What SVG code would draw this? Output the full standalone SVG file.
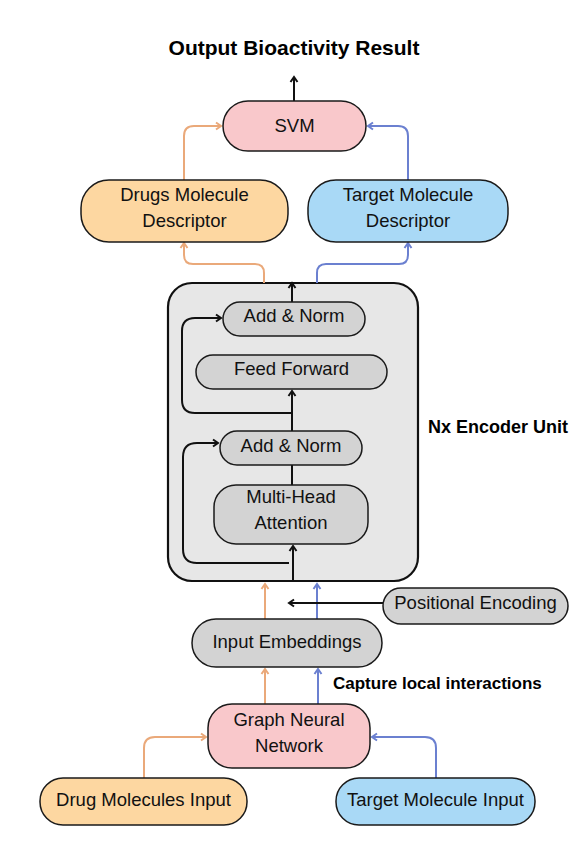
<svg xmlns="http://www.w3.org/2000/svg" width="585" height="864" viewBox="0 0 585 864">
<style>
.bg{fill:#ffffff}
.node{stroke:#1a1a1a;stroke-width:1.5}
.pink{fill:#f9c8cb}
.orange{fill:#fdd7a1}
.blue{fill:#a9d9f6}
.grey{fill:#d3d3d3}
.enc{fill:#e7e7e7;stroke:#111;stroke-width:2.2}
.t{font-family:"Liberation Sans",Arial,sans-serif;font-size:18.5px;fill:#111;text-anchor:middle}
.b{font-family:"Liberation Sans",Arial,sans-serif;font-weight:bold;fill:#000}
.c{fill:none;stroke-width:2}
.co{stroke:#eaa97a}
.cb{stroke:#6b80d0}
.ck{stroke:#111}
</style>
<defs>
<marker id="ao" markerUnits="userSpaceOnUse" markerWidth="10" markerHeight="10" refX="7" refY="5" orient="auto"><path d="M2,1.5 L7,5 L2,8.5" fill="none" stroke="#eaa97a" stroke-width="2"/></marker>
<marker id="ab" markerUnits="userSpaceOnUse" markerWidth="10" markerHeight="10" refX="7" refY="5" orient="auto"><path d="M2,1.5 L7,5 L2,8.5" fill="none" stroke="#6b80d0" stroke-width="2"/></marker>
<marker id="ak" markerUnits="userSpaceOnUse" markerWidth="10" markerHeight="10" refX="7" refY="5" orient="auto"><path d="M2,1.5 L7,5 L2,8.5" fill="none" stroke="#111" stroke-width="2"/></marker>
</defs>
<rect class="bg" x="0" y="0" width="585" height="864"/>
<text class="b" x="294" y="55" font-size="21" text-anchor="middle">Output Bioactivity Result</text>

<g id="encoder"><rect class="enc" x="168" y="283" width="250" height="298" rx="24"/></g>

<g id="connectors">
<path class="c ck" d="M294,101 V77" marker-end="url(#ak)"/>
<path class="c co" d="M184,180 V136 Q184,126 194,126 H221" marker-end="url(#ao)"/>
<path class="c cb" d="M408,180 V136 Q408,126 398,126 H368" marker-end="url(#ab)"/>
<path class="c co" d="M264,283 V273 Q264,264 255,264 H193 Q184,264 184,255 V243" marker-end="url(#ao)"/>
<path class="c cb" d="M317,283 V273 Q317,264 326,264 H399 Q408,264 408,255 V243" marker-end="url(#ab)"/>
<path class="c ck" d="M292,302 V283" marker-end="url(#ak)"/>
<path class="c ck" d="M292,431 V391" marker-end="url(#ak)"/>
<path class="c ck" d="M292,413 H195 Q182,413 182,400 V331 Q182,318 195,318 H221" marker-end="url(#ak)"/>
<path class="c ck" d="M292,465 V485"/>
<path class="c ck" d="M293,581 V546" marker-end="url(#ak)"/>
<path class="c ck" d="M289,563 H197 Q183,563 183,549 V457 Q183,443 197,443 H218" marker-end="url(#ak)"/>
<path class="c co" d="M265,619 V584" marker-end="url(#ao)"/>
<path class="c cb" d="M317,619 V584" marker-end="url(#ab)"/>
<path class="c ck" d="M383,603 H289" marker-end="url(#ak)"/>
<path class="c co" d="M265,704 V669" marker-end="url(#ao)"/>
<path class="c cb" d="M318,704 V669" marker-end="url(#ab)"/>
<path class="c co" d="M144,778 V748 Q144,737 155,737 H206" marker-end="url(#ao)"/>
<path class="c cb" d="M436,778 V748 Q436,737 425,737 H372" marker-end="url(#ab)"/>
</g>

<g id="svm"><rect class="node pink" x="223" y="101" width="143" height="50" rx="25"/><text class="t" x="294.5" y="132">SVM</text></g>
<g id="drugs-descriptor"><rect class="node orange" x="81" y="180" width="207" height="62" rx="28"/><text class="t" x="184.5" y="201">Drugs Molecule</text><text class="t" x="184.5" y="227">Descriptor</text></g>
<g id="target-descriptor"><rect class="node blue" x="308" y="180" width="200" height="62" rx="28"/><text class="t" x="408" y="201">Target Molecule</text><text class="t" x="408" y="227">Descriptor</text></g>
<g id="add-norm-1"><rect class="node grey" x="223" y="302" width="142" height="34" rx="17"/><text class="t" x="294" y="322">Add &amp; Norm</text></g>
<g id="feed-forward"><rect class="node grey" x="196" y="355" width="191" height="34" rx="17"/><text class="t" x="291.5" y="375">Feed Forward</text></g>
<g id="add-norm-2"><rect class="node grey" x="220" y="431" width="142" height="34" rx="17"/><text class="t" x="291" y="452">Add &amp; Norm</text></g>
<g id="multi-head"><rect class="node grey" x="214" y="485" width="154" height="59" rx="22"/><text class="t" x="291" y="503">Multi-Head</text><text class="t" x="291" y="529">Attention</text></g>
<g id="nx-label"><text class="b" x="428" y="433" font-size="18">Nx Encoder Unit</text></g>
<g id="positional-encoding"><rect class="node grey" x="383" y="588" width="185" height="36" rx="18"/><text class="t" x="475.5" y="609">Positional Encoding</text></g>
<g id="input-embeddings"><rect class="node grey" x="192" y="619" width="190" height="48" rx="24"/><text class="t" x="287" y="648">Input Embeddings</text></g>
<g id="capture-label"><text class="b" x="333" y="689" font-size="17">Capture local interactions</text></g>
<g id="gnn"><rect class="node pink" x="208" y="704" width="162" height="64" rx="24"/><text class="t" x="289" y="726">Graph Neural</text><text class="t" x="289" y="752">Network</text></g>
<g id="drug-input"><rect class="node orange" x="40" y="778" width="207" height="47" rx="23"/><text class="t" x="143.5" y="806">Drug Molecules Input</text></g>
<g id="target-input"><rect class="node blue" x="336" y="778" width="199" height="47" rx="23"/><text class="t" x="435.5" y="806">Target Molecule Input</text></g>
</svg>
